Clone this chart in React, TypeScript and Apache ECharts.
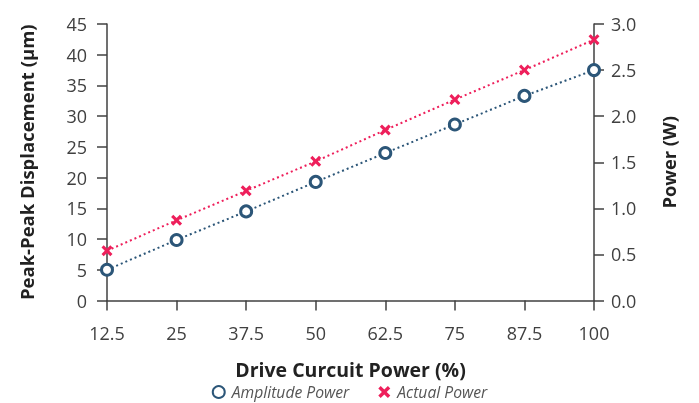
import React, { useEffect, useRef } from "react";
import * as echarts from "echarts";

const drivePower = [12.5, 25, 37.5, 50, 62.5, 75, 87.5, 100];
const amplitudeDisplacement = [5.0, 9.85, 14.5, 19.3, 24.0, 28.65, 33.3, 37.5];
const actualPowerW = [0.54, 0.87, 1.19, 1.51, 1.85, 2.18, 2.5, 2.83];

const BLUE = "#2c5678";
const RED = "#ee1f5b";
const AXIS = "#404040";
const FONT = "'Open Sans', 'Noto Sans', sans-serif";
const CROSS = "path://M2,0 L5,3 L8,0 L10,2 L7,5 L10,8 L8,10 L5,7 L2,10 L0,8 L3,5 L0,2 Z";

export default function App() {
  const ref = useRef<HTMLDivElement>(null);
  useEffect(() => {
    const chart = echarts.init(ref.current!, undefined, { renderer: "svg" });
    const axisCommon = {
      axisLine: { show: true, lineStyle: { color: AXIS, width: 1.5 } },
      axisTick: { show: true, length: 10, lineStyle: { color: AXIS, width: 1.5 } },
      splitLine: { show: false },
    };
    const nameStyle = (size: number) => ({
      fontFamily: FONT,
      fontWeight: "bold",
      fontSize: size,
      lineHeight: 20,
      color: "#222",
    });
    chart.setOption({
      animation: false,
      textStyle: { fontFamily: FONT },
      grid: { left: 107, right: 105, top: 24, bottom: 102.5, containLabel: false },
      xAxis: {
        type: "value",
        min: 12.5,
        max: 100,
        interval: 12.5,
        name: "Drive Curcuit Power (%)",
        nameLocation: "middle",
        nameGap: 59,
        nameTextStyle: nameStyle(19.5),
        ...axisCommon,
        axisLabel: { fontFamily: FONT, fontSize: 18, color: AXIS, margin: 23 },
      },
      yAxis: [
        {
          type: "value",
          min: 0,
          max: 45,
          interval: 5,
          name: "Peak-Peak Displacement (µm)",
          nameLocation: "middle",
          nameRotate: 90,
          nameGap: 71,
          nameTextStyle: nameStyle(18.5),
          ...axisCommon,
          axisLabel: { fontFamily: FONT, fontSize: 18, color: AXIS, margin: 20 },
        },
        {
          type: "value",
          position: "right",
          min: 0,
          max: 3,
          interval: 0.5,
          name: "Power (W)",
          nameLocation: "middle",
          nameRotate: 90,
          nameGap: 64,
          nameTextStyle: nameStyle(18.3),
          ...axisCommon,
          axisLabel: {
            fontFamily: FONT,
            fontSize: 18,
            color: AXIS,
            margin: 17,
            formatter: (v: number) => v.toFixed(1),
          },
        },
      ],
      legend: {
        bottom: 3,
        left: "center",
        padding: 0,
        itemGap: 29,
        itemWidth: 12,
        itemHeight: 12,
        textStyle: {
          fontFamily: FONT,
          fontStyle: "italic",
          fontSize: 15.7,
          lineHeight: 16,
          color: "#555",
          padding: [0, 0, 0, 2],
        },
        data: [
          { name: "Amplitude Power", icon: "circle" },
          { name: "Actual Power", icon: CROSS },
        ],
      },
      series: [
        {
          name: "Amplitude Power",
          type: "line",
          yAxisIndex: 0,
          data: drivePower.map((x, i) => [x, amplitudeDisplacement[i]]),
          symbol: "circle",
          symbolSize: 11,
          itemStyle: { color: "#fff", borderColor: BLUE, borderWidth: 3 },
          lineStyle: { color: BLUE, width: 2, type: [2, 3] },
          z: 3,
        },
        {
          name: "Actual Power",
          type: "line",
          yAxisIndex: 1,
          data: drivePower.map((x, i) => [x, actualPowerW[i]]),
          symbol: CROSS,
          symbolSize: 11,
          itemStyle: { color: RED },
          lineStyle: { color: RED, width: 2, type: [2, 3] },
          z: 3,
        },
      ],
    });
    return () => chart.dispose();
  }, []);
  return <div ref={ref} style={{ width: 699, height: 403, position: "fixed", left: 0, top: 0 }} />;
}
